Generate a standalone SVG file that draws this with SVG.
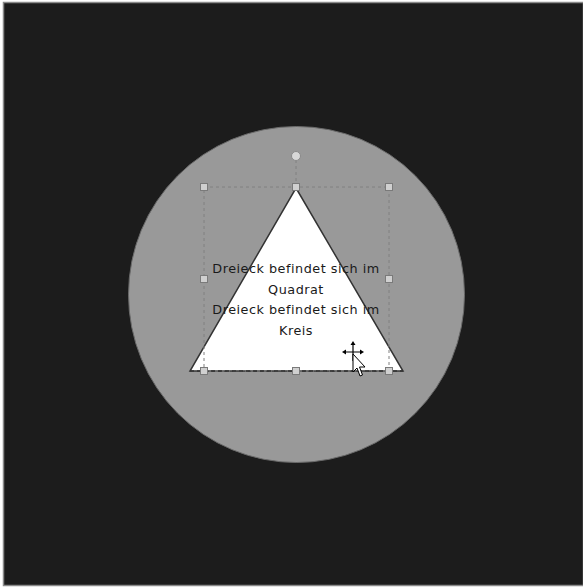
<svg xmlns="http://www.w3.org/2000/svg" width="583" height="587" viewBox="0 0 583 587">
<defs>
<style>
.h{fill:#d0d0d0;stroke:#7a7a7a;stroke-width:1}
.sel{fill:none;stroke:#808080;stroke-width:1;stroke-dasharray:3,3}
.t{font-family:"DejaVu Sans",sans-serif;font-size:12.8px;letter-spacing:0.5px;fill:#1a1a1a;text-anchor:middle}
</style>
</defs>
<rect width="583" height="587" fill="#ffffff"/>
<rect x="3.5" y="2.5" width="580" height="583" fill="#1c1c1c" stroke="#8a8a8a" stroke-width="1.5"/>
<g id="circle">
<circle cx="296.5" cy="294.5" r="168" fill="#999999" stroke="#6a6a6a" stroke-width="1"/>
</g>
<g id="triangle">
<polygon points="296,188 403,371 190,371" fill="#ffffff" stroke="#333333" stroke-width="1.5"/>
<text class="t" x="296" y="273">Dreieck befindet sich im</text>
<text class="t" x="296" y="294">Quadrat</text>
<text class="t" x="296" y="314">Dreieck befindet sich im</text>
<text class="t" x="296" y="335">Kreis</text>
</g>
<g id="selection">
<rect class="sel" x="204" y="187" width="185" height="184"/>
<line x1="190" y1="371" x2="403" y2="371" stroke="#333" stroke-width="1.5" stroke-dasharray="4,3"/>
<line class="sel" x1="296" y1="160" x2="296" y2="187"/>
<circle cx="296" cy="156" r="4.5" fill="#d8d8d8" stroke="#8a8a8a"/>
<rect class="h" x="200.5" y="183.5" width="7" height="7"/>
<rect class="h" x="292.5" y="183.5" width="7" height="7"/>
<rect class="h" x="385.5" y="183.5" width="7" height="7"/>
<rect class="h" x="200.5" y="275.5" width="7" height="7"/>
<rect class="h" x="385.5" y="275.5" width="7" height="7"/>
<rect class="h" x="200.5" y="367.5" width="7" height="7"/>
<rect class="h" x="292.5" y="367.5" width="7" height="7"/>
<rect class="h" x="385.5" y="367.5" width="7" height="7"/>
</g>
<g id="cursor">
<path d="M353,343 V361 M344,352 H362" stroke="#000" stroke-width="1.2"/>
<polygon points="353,341 350.5,345 355.5,345" fill="#000"/>
<polygon points="342,352 346,349.5 346,354.5" fill="#000"/>
<polygon points="364,352 360,349.5 360,354.5" fill="#000"/>
<polygon points="353,354 353,372 357,368 360,376 362.5,375 359.5,367 365,367" fill="#ffffff" stroke="#000" stroke-width="1"/>
</g>
</svg>
